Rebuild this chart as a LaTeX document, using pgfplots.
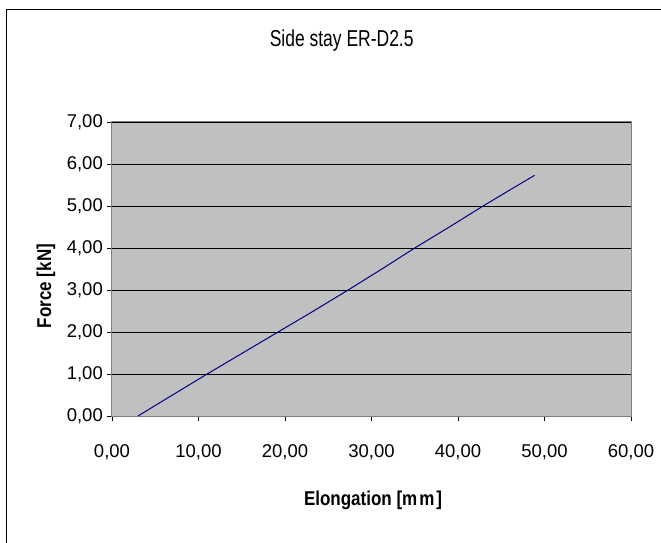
\documentclass[border=0pt]{standalone}
\usepackage{fontspec}
\setmainfont{Liberation Sans}
\newfontfamily\titlefont{Liberation Sans}[FakeStretch=0.76]
\newfontfamily\labelfont{Liberation Sans}[FakeStretch=0.85]
\usepackage{pgfplots}
\pgfplotsset{compat=1.18}

\definecolor{plotbg}{HTML}{C0C0C0}
\definecolor{framegray}{HTML}{808080}
\definecolor{navyline}{HTML}{000080}

\begin{document}
\begin{tikzpicture}[x=1pt,y=1pt]
\begin{axis}[
    at={(0pt,0pt)}, anchor=south west,
    scale only axis,
    width=519pt, height=294pt,
    xmin=0, xmax=60,
    ymin=0, ymax=7,
    xtick={0,10,...,60},
    ytick={0,1,...,7},
    axis background/.style={fill=plotbg},
    axis line style={framegray, line width=1pt},
    ymajorgrids,
    grid style={black, line width=0.9pt},
    tick align=outside,
    major tick length=5pt,
    tick style={black, line width=0.8pt},
    xtick pos=bottom, ytick pos=left,
    /pgf/number format/fixed,
    /pgf/number format/fixed zerofill,
    /pgf/number format/precision=2,
    /pgf/number format/use comma,
    /pgf/number format/assume math mode=true,
    ticklabel style={font=\fontsize{18.5}{20}\selectfont},
    xticklabel style={anchor=north, inner sep=0pt, yshift=-23pt},
    yticklabel style={anchor=east, inner sep=0pt, xshift=-4pt},
    title={\titlefont\fontsize{23}{25}\selectfont Side stay ER-D2.5},
    title style={at={(axis description cs:0.4426,1.2347)}, anchor=base, inner sep=0pt},
    xlabel={\labelfont\bfseries\fontsize{20}{22}\selectfont Elongation [m\hspace{2pt}m\hspace{2pt}]},
    xlabel style={at={(axis description cs:0.503,-0.306)}, anchor=base, inner sep=0pt},
    ylabel={\labelfont\bfseries\fontsize{20}{22}\selectfont Force [kN]},
    ylabel style={at={(axis description cs:-0.1272,0.442)}, anchor=center, inner sep=0pt},
]
\addplot[navyline, line width=1pt] coordinates {
    (3.0,0.00) (7.0,0.50) (11.0,1.00) (15.1,1.50) (19.2,2.00)
    (23.3,2.50) (27.3,3.00) (31.2,3.50) (35.0,4.00) (39.0,4.50)
    (42.9,5.00) (45.9,5.37) (48.85,5.73)
};
\end{axis}
\draw[black, line width=1pt] (-105,-127) -- (-105,406.5) -- (549,406.5);
\pgfresetboundingbox
\path[use as bounding box] (-112,-127) rectangle (549,416);
\end{tikzpicture}
\end{document}
